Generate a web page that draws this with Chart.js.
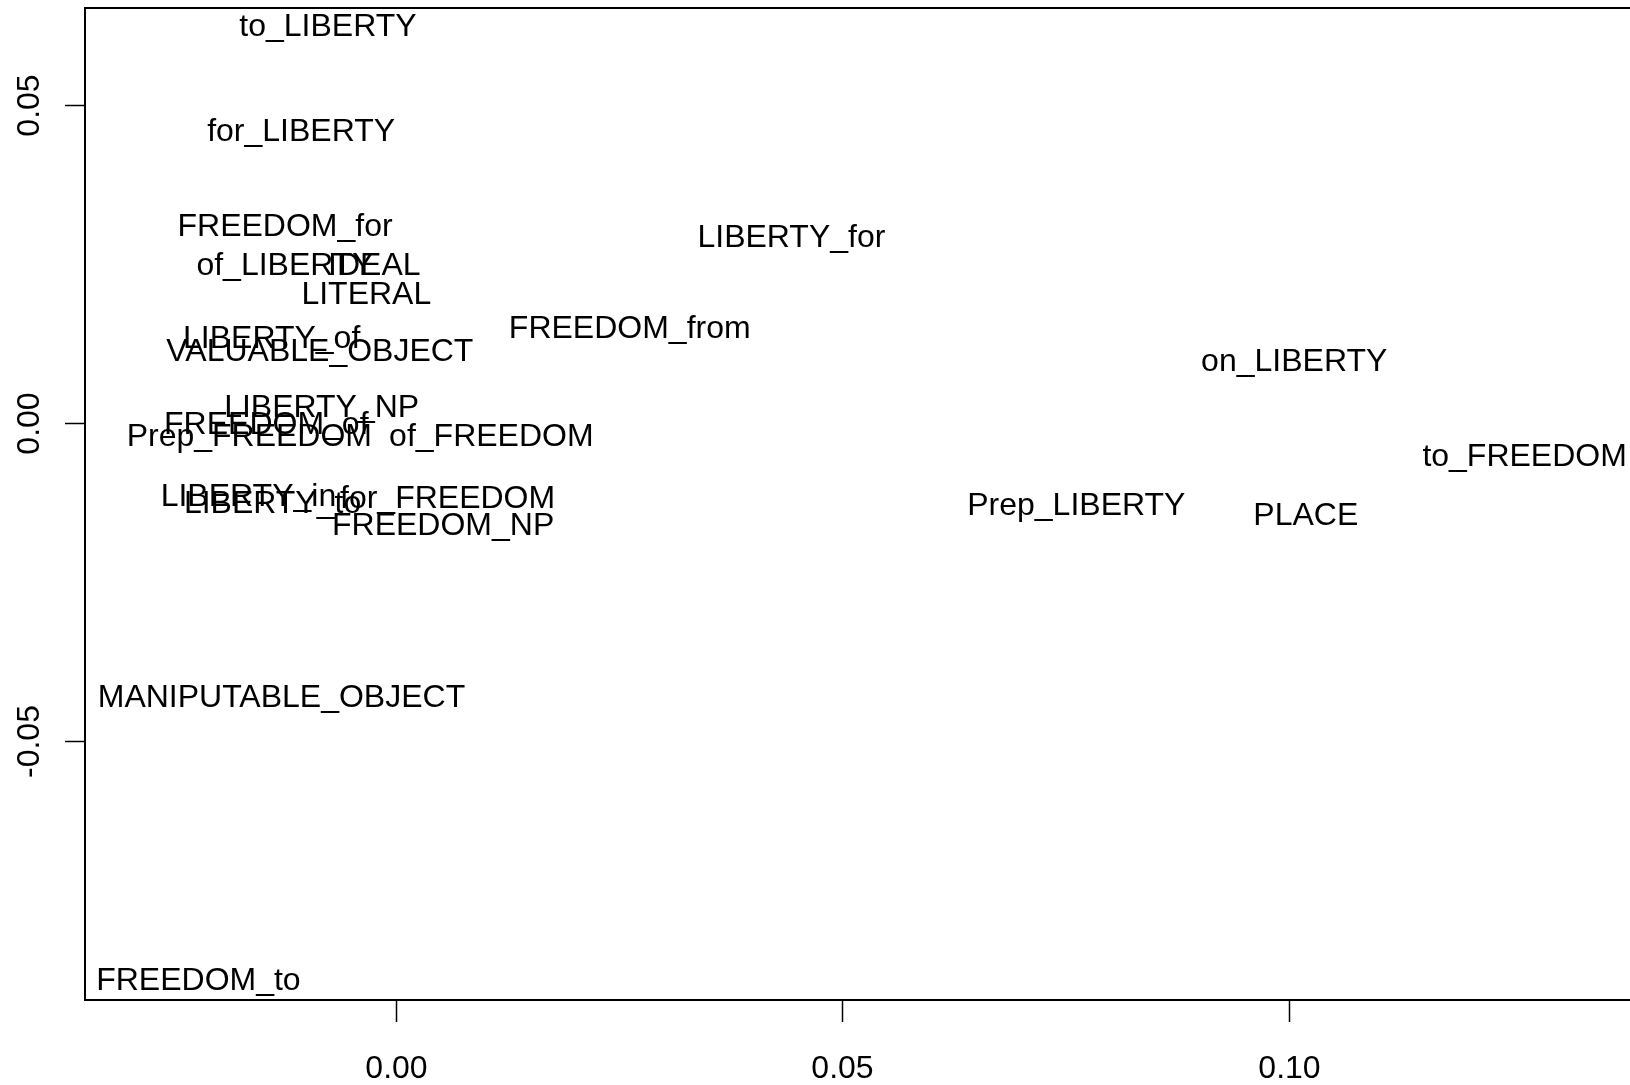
<!DOCTYPE html>
<html>
<head>
<meta charset="utf-8">
<script src="https://cdn.jsdelivr.net/npm/chart.js@4.4.1/dist/chart.umd.min.js"></script>
<style>
  html, body { margin: 0; padding: 0; background: #fff; overflow: hidden; }
  #wrap { width: 1630px; height: 1085px; }
</style>
</head>
<body>
<div id="wrap"><canvas id="plot" width="1630" height="1085"></canvas></div>
<script>
// point labels and their coordinates
const pointLabels = [
  'to_LIBERTY', 'for_LIBERTY', 'FREEDOM_for', 'of_LIBERTY', 'IDEAL', 'LITERAL',
  'LIBERTY_of', 'VALUABLE_OBJECT', 'FREEDOM_from', 'LIBERTY_for', 'on_LIBERTY',
  'LIBERTY_NP', 'FREEDOM_of', 'Prep_FREEDOM', 'of_FREEDOM', 'to_FREEDOM',
  'LIBERTY_in', 'LIBERTY_to', 'for_FREEDOM', 'FREEDOM_NP', 'Prep_LIBERTY', 'PLACE',
  'MANIPUTABLE_OBJECT', 'FREEDOM_to'
];
const xValues = [
  -0.0076, -0.0106, -0.0124, -0.0124, -0.0024, -0.0033,
  -0.0139, -0.0085, 0.0262, 0.0443, 0.1006,
  -0.0083, -0.0145, -0.0164, 0.0107, 0.1264,
  -0.0165, -0.0138, 0.0058, 0.0053, 0.0762, 0.1019,
  -0.0128, -0.0221
];
const yValues = [
  0.0626, 0.0461, 0.0311, 0.0250, 0.0251, 0.0205,
  0.0136, 0.0116, 0.0151, 0.0294, 0.0100,
  0.0027, 0.0000, -0.0019, -0.0019, -0.0050,
  -0.0113, -0.0124, -0.0116, -0.0158, -0.0126, -0.0143,
  -0.0428, -0.0873
];

const xTickValues = [0, 0.05, 0.10];
const xTickLabels = ['0.00', '0.05', '0.10'];
const yTickValues = [0.05, 0, -0.05];
const yTickLabels = ['0.05', '0.00', '-0.05'];

const FONT_SIZE = 32;
const FONT = FONT_SIZE + "px 'Liberation Sans', Arial, sans-serif";
const CAP = FONT_SIZE * 0.716;

// R-style box, ticks and text labels drawn on top of the scatter
const rPlotPlugin = {
  id: 'rPlot',
  afterDatasetsDraw(chart) {
    const ctx = chart.ctx;
    const area = chart.chartArea;
    const xs = chart.scales.x;
    const ys = chart.scales.y;

    ctx.save();
    ctx.strokeStyle = '#000';
    ctx.fillStyle = '#000';

    // box (right side runs off the picture)
    ctx.lineWidth = 2;
    ctx.beginPath();
    ctx.moveTo(area.right + 2, area.top);
    ctx.lineTo(area.left, area.top);
    ctx.lineTo(area.left, area.bottom);
    ctx.lineTo(area.right + 2, area.bottom);
    ctx.stroke();

    ctx.font = FONT;
    ctx.lineWidth = 1.5;

    // x axis
    ctx.textAlign = 'center';
    ctx.textBaseline = 'alphabetic';
    xTickValues.forEach((v, i) => {
      const px = Math.round(xs.getPixelForValue(v)) + 0.5;
      ctx.beginPath();
      ctx.moveTo(px, area.bottom);
      ctx.lineTo(px, area.bottom + 22);
      ctx.stroke();
      ctx.fillText(xTickLabels[i], px, area.bottom + 78);
    });

    // y axis, labels rotated
    yTickValues.forEach((v, i) => {
      const py = Math.round(ys.getPixelForValue(v)) + 0.5;
      ctx.beginPath();
      ctx.moveTo(area.left, py);
      ctx.lineTo(area.left - 20, py);
      ctx.stroke();
      ctx.save();
      ctx.translate(area.left - 46, py);
      ctx.rotate(-Math.PI / 2);
      ctx.fillText(yTickLabels[i], 0, 0);
      ctx.restore();
    });

    // point labels, centred on the point
    const meta = chart.getDatasetMeta(0);
    meta.data.forEach((pt, i) => {
      ctx.fillText(pointLabels[i], pt.x, pt.y + CAP / 2);
    });

    ctx.restore();
  }
};

const chart = new Chart(document.getElementById('plot'), {
  type: 'scatter',
  data: {
    datasets: [{
      label: 'labels',
      data: xValues.map((x, i) => ({ x: x, y: yValues[i] })),
      pointRadius: 0,
      pointHoverRadius: 0
    }]
  },
  options: {
    responsive: false,
    devicePixelRatio: 1,
    animation: false,
    events: [],
    layout: { padding: { left: 85, top: 8, right: 0, bottom: 85 } },
    plugins: {
      legend: { display: false },
      tooltip: { enabled: false }
    },
    scales: {
      x: { type: 'linear', display: false, min: -0.0348, max: 0.1382 },
      y: { type: 'linear', display: false, min: -0.0907, max: 0.0652 }
    }
  },
  plugins: [rPlotPlugin]
});
</script>
</body>
</html>
